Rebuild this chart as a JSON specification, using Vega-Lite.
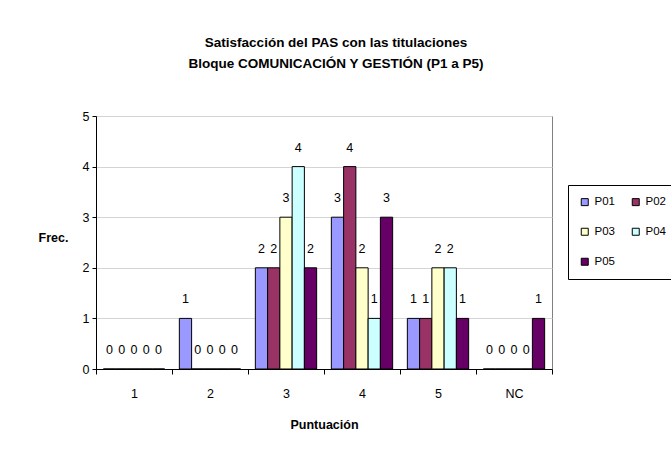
{
  "$schema": "https://vega.github.io/schema/vega-lite/v6.json",
  "autosize": "none",
  "width": 456,
  "height": 253,
  "padding": {"left": 96, "top": 116, "right": 119, "bottom": 84},
  "background": "white",
  "config": {
    "font": "Liberation Sans",
    "view": {"stroke": "#808080", "strokeWidth": 1}
  },
  "title": {
    "text": ["Satisfacción del PAS con las titulaciones", "Bloque COMUNICACIÓN Y GESTIÓN (P1 a P5)"],
    "fontSize": 13.5,
    "fontWeight": "bold",
    "color": "black",
    "anchor": "middle",
    "dx": 12,
    "offset": 40,
    "lineHeight": 21
  },
  "data": {
    "values": [
      {"punt": "1", "serie": "P01", "frec": 0},
      {"punt": "1", "serie": "P02", "frec": 0},
      {"punt": "1", "serie": "P03", "frec": 0},
      {"punt": "1", "serie": "P04", "frec": 0},
      {"punt": "1", "serie": "P05", "frec": 0},
      {"punt": "2", "serie": "P01", "frec": 1},
      {"punt": "2", "serie": "P02", "frec": 0},
      {"punt": "2", "serie": "P03", "frec": 0},
      {"punt": "2", "serie": "P04", "frec": 0},
      {"punt": "2", "serie": "P05", "frec": 0},
      {"punt": "3", "serie": "P01", "frec": 2},
      {"punt": "3", "serie": "P02", "frec": 2},
      {"punt": "3", "serie": "P03", "frec": 3},
      {"punt": "3", "serie": "P04", "frec": 4},
      {"punt": "3", "serie": "P05", "frec": 2},
      {"punt": "4", "serie": "P01", "frec": 3},
      {"punt": "4", "serie": "P02", "frec": 4},
      {"punt": "4", "serie": "P03", "frec": 2},
      {"punt": "4", "serie": "P04", "frec": 1},
      {"punt": "4", "serie": "P05", "frec": 3},
      {"punt": "5", "serie": "P01", "frec": 1},
      {"punt": "5", "serie": "P02", "frec": 1},
      {"punt": "5", "serie": "P03", "frec": 2},
      {"punt": "5", "serie": "P04", "frec": 2},
      {"punt": "5", "serie": "P05", "frec": 1},
      {"punt": "NC", "serie": "P01", "frec": 0},
      {"punt": "NC", "serie": "P02", "frec": 0},
      {"punt": "NC", "serie": "P03", "frec": 0},
      {"punt": "NC", "serie": "P04", "frec": 0},
      {"punt": "NC", "serie": "P05", "frec": 1}
    ]
  },
  "encoding": {
    "x": {
      "field": "punt",
      "type": "nominal",
      "sort": ["1", "2", "3", "4", "5", "NC"],
      "scale": {"paddingInner": 0, "paddingOuter": 0},
      "axis": {
        "title": "Puntuación",
        "titleFontSize": 12.5,
        "titleFontWeight": "bold",
        "titleColor": "black",
        "titlePadding": 19,
        "tickBand": "extent",
        "labelAngle": 0,
        "labelFontSize": 12.5,
        "labelColor": "black",
        "labelPadding": 13,
        "domainColor": "black",
        "tickColor": "black",
        "tickSize": 5,
        "grid": false
      }
    },
    "xOffset": {
      "field": "serie",
      "type": "nominal",
      "scale": {"paddingInner": 0, "paddingOuter": 0.6}
    },
    "y": {
      "field": "frec",
      "type": "quantitative",
      "scale": {"domain": [0, 5], "nice": false},
      "axis": {
        "values": [0, 1, 2, 3, 4, 5],
        "title": "Frec.",
        "titleAngle": 0,
        "titleFontSize": 12.5,
        "titleFontWeight": "bold",
        "titleColor": "black",
        "titleAlign": "center",
        "titleBaseline": "middle",
        "titleX": -43,
        "titleY": 121,
        "labelFontSize": 12.5,
        "labelColor": "black",
        "labelPadding": 3,
        "domainColor": "black",
        "tickColor": "black",
        "tickSize": 4,
        "gridColor": "#d4d4d4",
        "grid": true
      }
    }
  },
  "layer": [
    {
      "mark": {"type": "bar", "stroke": "black", "strokeWidth": 1},
      "encoding": {
        "color": {
          "field": "serie",
          "type": "nominal",
          "scale": {
            "domain": ["P01", "P02", "P03", "P04", "P05"],
            "range": ["#9999FF", "#993366", "#FFFFCC", "#CCFFFF", "#660066"]
          },
          "legend": {
            "title": null,
            "orient": "none",
            "legendX": 472,
            "legendY": 69,
            "columns": 2,
            "direction": "horizontal",
            "strokeColor": "black",
            "fillColor": "white",
            "padding": 11,
            "symbolType": "square",
            "symbolSize": 49,
            "symbolStrokeColor": "black",
            "symbolStrokeWidth": 1,
            "symbolOpacity": 1,
            "labelFont": "Liberation Sans Narrow, Liberation Sans",
            "labelFontSize": 11.5,
            "labelColor": "black",
            "labelOffset": 4,
            "columnPadding": 15,
            "rowPadding": 17
          }
        }
      }
    },
    {
      "mark": {"type": "text", "baseline": "middle", "dy": -19, "fontSize": 12.5, "color": "black"},
      "encoding": {
        "text": {"field": "frec", "type": "quantitative"}
      }
    }
  ]
}
